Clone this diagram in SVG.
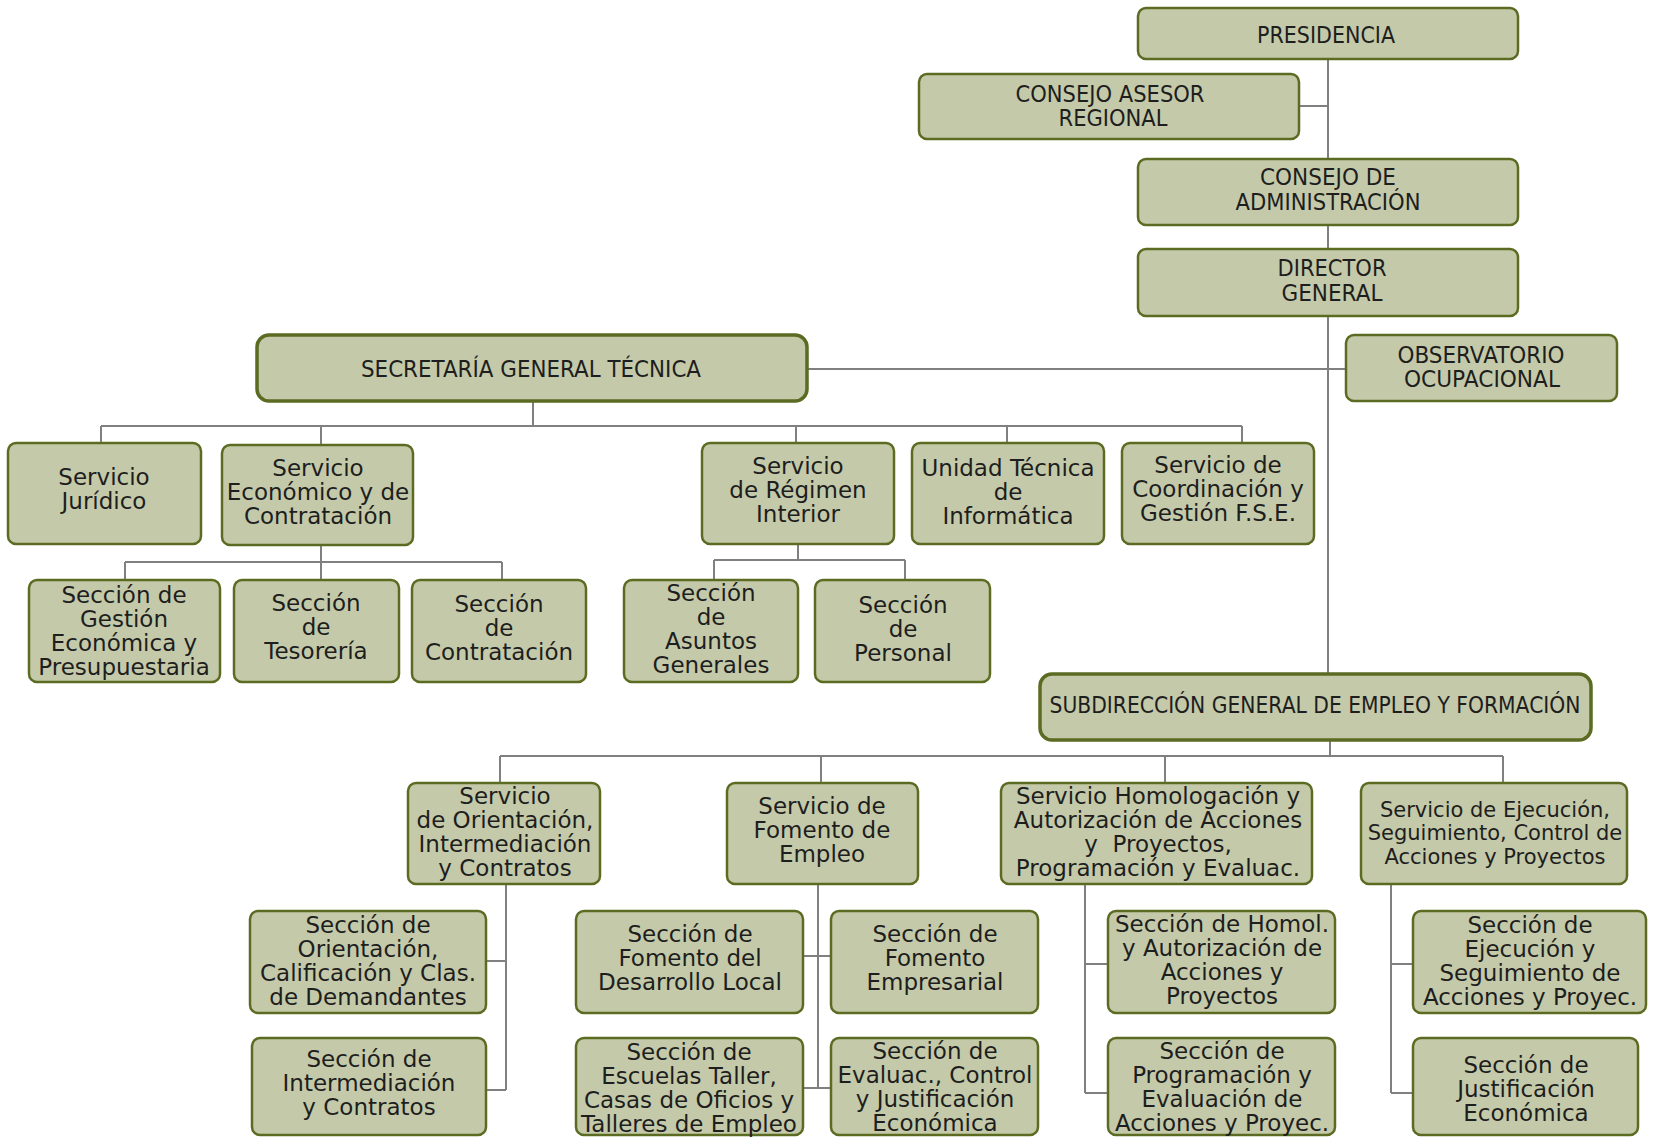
<svg xmlns="http://www.w3.org/2000/svg" width="1654" height="1137" viewBox="0 0 1654 1137">
<style>
.bg{fill:#ffffff}
.n{fill:#c4caa9;stroke:#5b6b22;stroke-width:2.5}
.nb{fill:#c4caa9;stroke:#5b6b22;stroke-width:3.5}
.c{fill:none;stroke:#808080;stroke-width:2}
.t{font-family:"DejaVu Sans",Verdana,sans-serif;font-size:23px;fill:#1e1e1e;text-anchor:middle}
.t21{font-size:21px}
.k{font-family:"DejaVu Sans",Verdana,sans-serif;font-size:23px;fill:#1e1e1e;text-anchor:middle}
</style>
<rect class="bg" x="0" y="0" width="1654" height="1137"/>
<g id="connectors">
<path class="c" d="M1328 59V674"/>
<path class="c" d="M1299 106H1328"/>
<path class="c" d="M807 369H1346"/>
<path class="c" d="M533 401V426M101 426H1242M101 426V443M321 426V445M796 426V443M1007 426V443M1242 426V443"/>
<path class="c" d="M321 545V562M125 562H502M125 562V580M321 562V580M502 562V580"/>
<path class="c" d="M798 544V560M714 560H905M714 560V580M905 560V580"/>
<path class="c" d="M1330 740V756M500 756H1503M500 756V783M821 756V783M1165 756V783M1503 756V783"/>
<path class="c" d="M506 884V1090M486 961H506M486 1090H506"/>
<path class="c" d="M818 884V1088M803 956H831M803 1088H831"/>
<path class="c" d="M1085 884V1093M1085 964H1108M1085 1093H1108"/>
<path class="c" d="M1391 884V1093M1391 964H1413M1391 1093H1413"/>
</g>
<g id="presidencia"><rect class="n" x="1138" y="8" width="380" height="51" rx="8"/><text class="k" x="1326" y="43" textLength="138" lengthAdjust="spacingAndGlyphs">PRESIDENCIA</text></g>
<g id="consejo-asesor"><rect class="n" x="919" y="74" width="380" height="65" rx="8"/><text class="k" x="1110" y="102" textLength="189" lengthAdjust="spacingAndGlyphs">CONSEJO ASESOR</text><text class="k" x="1113" y="126" textLength="109" lengthAdjust="spacingAndGlyphs">REGIONAL</text></g>
<g id="consejo-admin"><rect class="n" x="1138" y="159" width="380" height="66" rx="8"/><text class="k" x="1328" y="185" textLength="136" lengthAdjust="spacingAndGlyphs">CONSEJO DE</text><text class="k" x="1328" y="210" textLength="185" lengthAdjust="spacingAndGlyphs">ADMINISTRACIÓN</text></g>
<g id="director"><rect class="n" x="1138" y="249" width="380" height="67" rx="8"/><text class="k" x="1332" y="276" textLength="109" lengthAdjust="spacingAndGlyphs">DIRECTOR</text><text class="k" x="1332" y="301" textLength="101" lengthAdjust="spacingAndGlyphs">GENERAL</text></g>
<g id="secretaria"><rect class="nb" x="257" y="335" width="550" height="66" rx="12"/><text class="k" x="531" y="377" textLength="340" lengthAdjust="spacingAndGlyphs">SECRETARÍA GENERAL TÉCNICA</text></g>
<g id="observatorio"><rect class="n" x="1346" y="335" width="271" height="66" rx="8"/><text class="k" x="1481" y="363" textLength="167" lengthAdjust="spacingAndGlyphs">OBSERVATORIO</text><text class="k" x="1482" y="387" textLength="156" lengthAdjust="spacingAndGlyphs">OCUPACIONAL</text></g>
<g id="juridico"><rect class="n" x="8" y="443" width="193" height="101" rx="8"/><text class="t" x="104" y="485">Servicio<tspan x="104" dy="24">Jurídico</tspan></text></g>
<g id="economico"><rect class="n" x="222" y="445" width="191" height="100" rx="8"/><text class="t" x="318" y="476">Servicio<tspan x="318" dy="24">Económico y de</tspan><tspan x="318" dy="24">Contratación</tspan></text></g>
<g id="regimen"><rect class="n" x="702" y="443" width="192" height="101" rx="8"/><text class="t" x="798" y="474">Servicio<tspan x="798" dy="24">de Régimen</tspan><tspan x="798" dy="24">Interior</tspan></text></g>
<g id="informatica"><rect class="n" x="912" y="443" width="192" height="101" rx="8"/><text class="t" x="1008" y="476">Unidad Técnica<tspan x="1008" dy="24">de</tspan><tspan x="1008" dy="24">Informática</tspan></text></g>
<g id="coordinacion"><rect class="n" x="1122" y="443" width="192" height="101" rx="8"/><text class="t" x="1218" y="473">Servicio de<tspan x="1218" dy="24">Coordinación y</tspan><tspan x="1218" dy="24">Gestión F.S.E.</tspan></text></g>
<g id="sec-gestion"><rect class="n" x="29" y="580" width="191" height="102" rx="8"/><text class="t" x="124" y="603">Sección de<tspan x="124" dy="24">Gestión</tspan><tspan x="124" dy="24">Económica y</tspan><tspan x="124" dy="24">Presupuestaria</tspan></text></g>
<g id="sec-tesoreria"><rect class="n" x="234" y="580" width="165" height="102" rx="8"/><text class="t" x="316" y="611">Sección<tspan x="316" dy="24">de</tspan><tspan x="316" dy="24">Tesorería</tspan></text></g>
<g id="sec-contratacion"><rect class="n" x="412" y="580" width="174" height="102" rx="8"/><text class="t" x="499" y="612">Sección<tspan x="499" dy="24">de</tspan><tspan x="499" dy="24">Contratación</tspan></text></g>
<g id="sec-asuntos"><rect class="n" x="624" y="580" width="174" height="102" rx="8"/><text class="t" x="711" y="601">Sección<tspan x="711" dy="24">de</tspan><tspan x="711" dy="24">Asuntos</tspan><tspan x="711" dy="24">Generales</tspan></text></g>
<g id="sec-personal"><rect class="n" x="815" y="580" width="175" height="102" rx="8"/><text class="t" x="903" y="613">Sección<tspan x="903" dy="24">de</tspan><tspan x="903" dy="24">Personal</tspan></text></g>
<g id="subdireccion"><rect class="nb" x="1040" y="674" width="551" height="66" rx="12"/><text class="k" x="1315" y="713" textLength="531" lengthAdjust="spacingAndGlyphs">SUBDIRECCIÓN GENERAL DE EMPLEO Y FORMACIÓN</text></g>
<g id="serv-orientacion"><rect class="n" x="408" y="783" width="192" height="101" rx="8"/><text class="t" x="505" y="804">Servicio<tspan x="505" dy="24">de Orientación,</tspan><tspan x="505" dy="24">Intermediación</tspan><tspan x="505" dy="24">y Contratos</tspan></text></g>
<g id="serv-fomento"><rect class="n" x="727" y="783" width="191" height="101" rx="8"/><text class="t" x="822" y="814">Servicio de<tspan x="822" dy="24">Fomento de</tspan><tspan x="822" dy="24">Empleo</tspan></text></g>
<g id="serv-homologacion"><rect class="n" x="1001" y="783" width="311" height="101" rx="8"/><text class="t" x="1158" y="804" style="white-space:pre">Servicio Homologación y<tspan x="1158" dy="24">Autorización de Acciones</tspan><tspan x="1158" dy="24">y  Proyectos,</tspan><tspan x="1158" dy="24">Programación y Evaluac.</tspan></text></g>
<g id="serv-ejecucion"><rect class="n" x="1361" y="783" width="266" height="101" rx="8"/><text class="t t21" x="1495" y="817">Servicio de Ejecución,<tspan x="1495" dy="23.3">Seguimiento, Control de</tspan><tspan x="1495" dy="23.3">Acciones y Proyectos</tspan></text></g>
<g id="sec-orientacion"><rect class="n" x="250" y="911" width="236" height="102" rx="8"/><text class="t" x="368" y="933">Sección de<tspan x="368" dy="24">Orientación,</tspan><tspan x="368" dy="24">Calificación y Clas.</tspan><tspan x="368" dy="24">de Demandantes</tspan></text></g>
<g id="sec-intermediacion"><rect class="n" x="252" y="1038" width="234" height="97" rx="8"/><text class="t" x="369" y="1067">Sección de<tspan x="369" dy="24">Intermediación</tspan><tspan x="369" dy="24">y Contratos</tspan></text></g>
<g id="sec-desarrollo"><rect class="n" x="576" y="911" width="227" height="102" rx="8"/><text class="t" x="690" y="942">Sección de<tspan x="690" dy="24">Fomento del</tspan><tspan x="690" dy="24">Desarrollo Local</tspan></text></g>
<g id="sec-empresarial"><rect class="n" x="831" y="911" width="207" height="102" rx="8"/><text class="t" x="935" y="942">Sección de<tspan x="935" dy="24">Fomento</tspan><tspan x="935" dy="24">Empresarial</tspan></text></g>
<g id="sec-escuelas"><rect class="n" x="576" y="1038" width="227" height="97" rx="8"/><text class="t" x="689" y="1060">Sección de<tspan x="689" dy="24">Escuelas Taller,</tspan><tspan x="689" dy="24">Casas de Oficios y</tspan><tspan x="689" dy="24">Talleres de Empleo</tspan></text></g>
<g id="sec-evaluac"><rect class="n" x="831" y="1038" width="207" height="97" rx="8"/><text class="t" x="935" y="1059">Sección de<tspan x="935" dy="24">Evaluac., Control</tspan><tspan x="935" dy="24">y Justificación</tspan><tspan x="935" dy="24">Económica</tspan></text></g>
<g id="sec-homol"><rect class="n" x="1108" y="911" width="227" height="102" rx="8"/><text class="t" x="1222" y="932">Sección de Homol.<tspan x="1222" dy="24">y Autorización de</tspan><tspan x="1222" dy="24">Acciones y</tspan><tspan x="1222" dy="24">Proyectos</tspan></text></g>
<g id="sec-programacion"><rect class="n" x="1108" y="1038" width="227" height="97" rx="8"/><text class="t" x="1222" y="1059">Sección de<tspan x="1222" dy="24">Programación y</tspan><tspan x="1222" dy="24">Evaluación de</tspan><tspan x="1222" dy="24">Acciones y Proyec.</tspan></text></g>
<g id="sec-ejecucion"><rect class="n" x="1413" y="911" width="233" height="102" rx="8"/><text class="t" x="1530" y="933">Sección de<tspan x="1530" dy="24">Ejecución y</tspan><tspan x="1530" dy="24">Seguimiento de</tspan><tspan x="1530" dy="24">Acciones y Proyec.</tspan></text></g>
<g id="sec-justificacion"><rect class="n" x="1413" y="1038" width="225" height="97" rx="8"/><text class="t" x="1526" y="1073">Sección de<tspan x="1526" dy="24">Justificación</tspan><tspan x="1526" dy="24">Económica</tspan></text></g>
</svg>
